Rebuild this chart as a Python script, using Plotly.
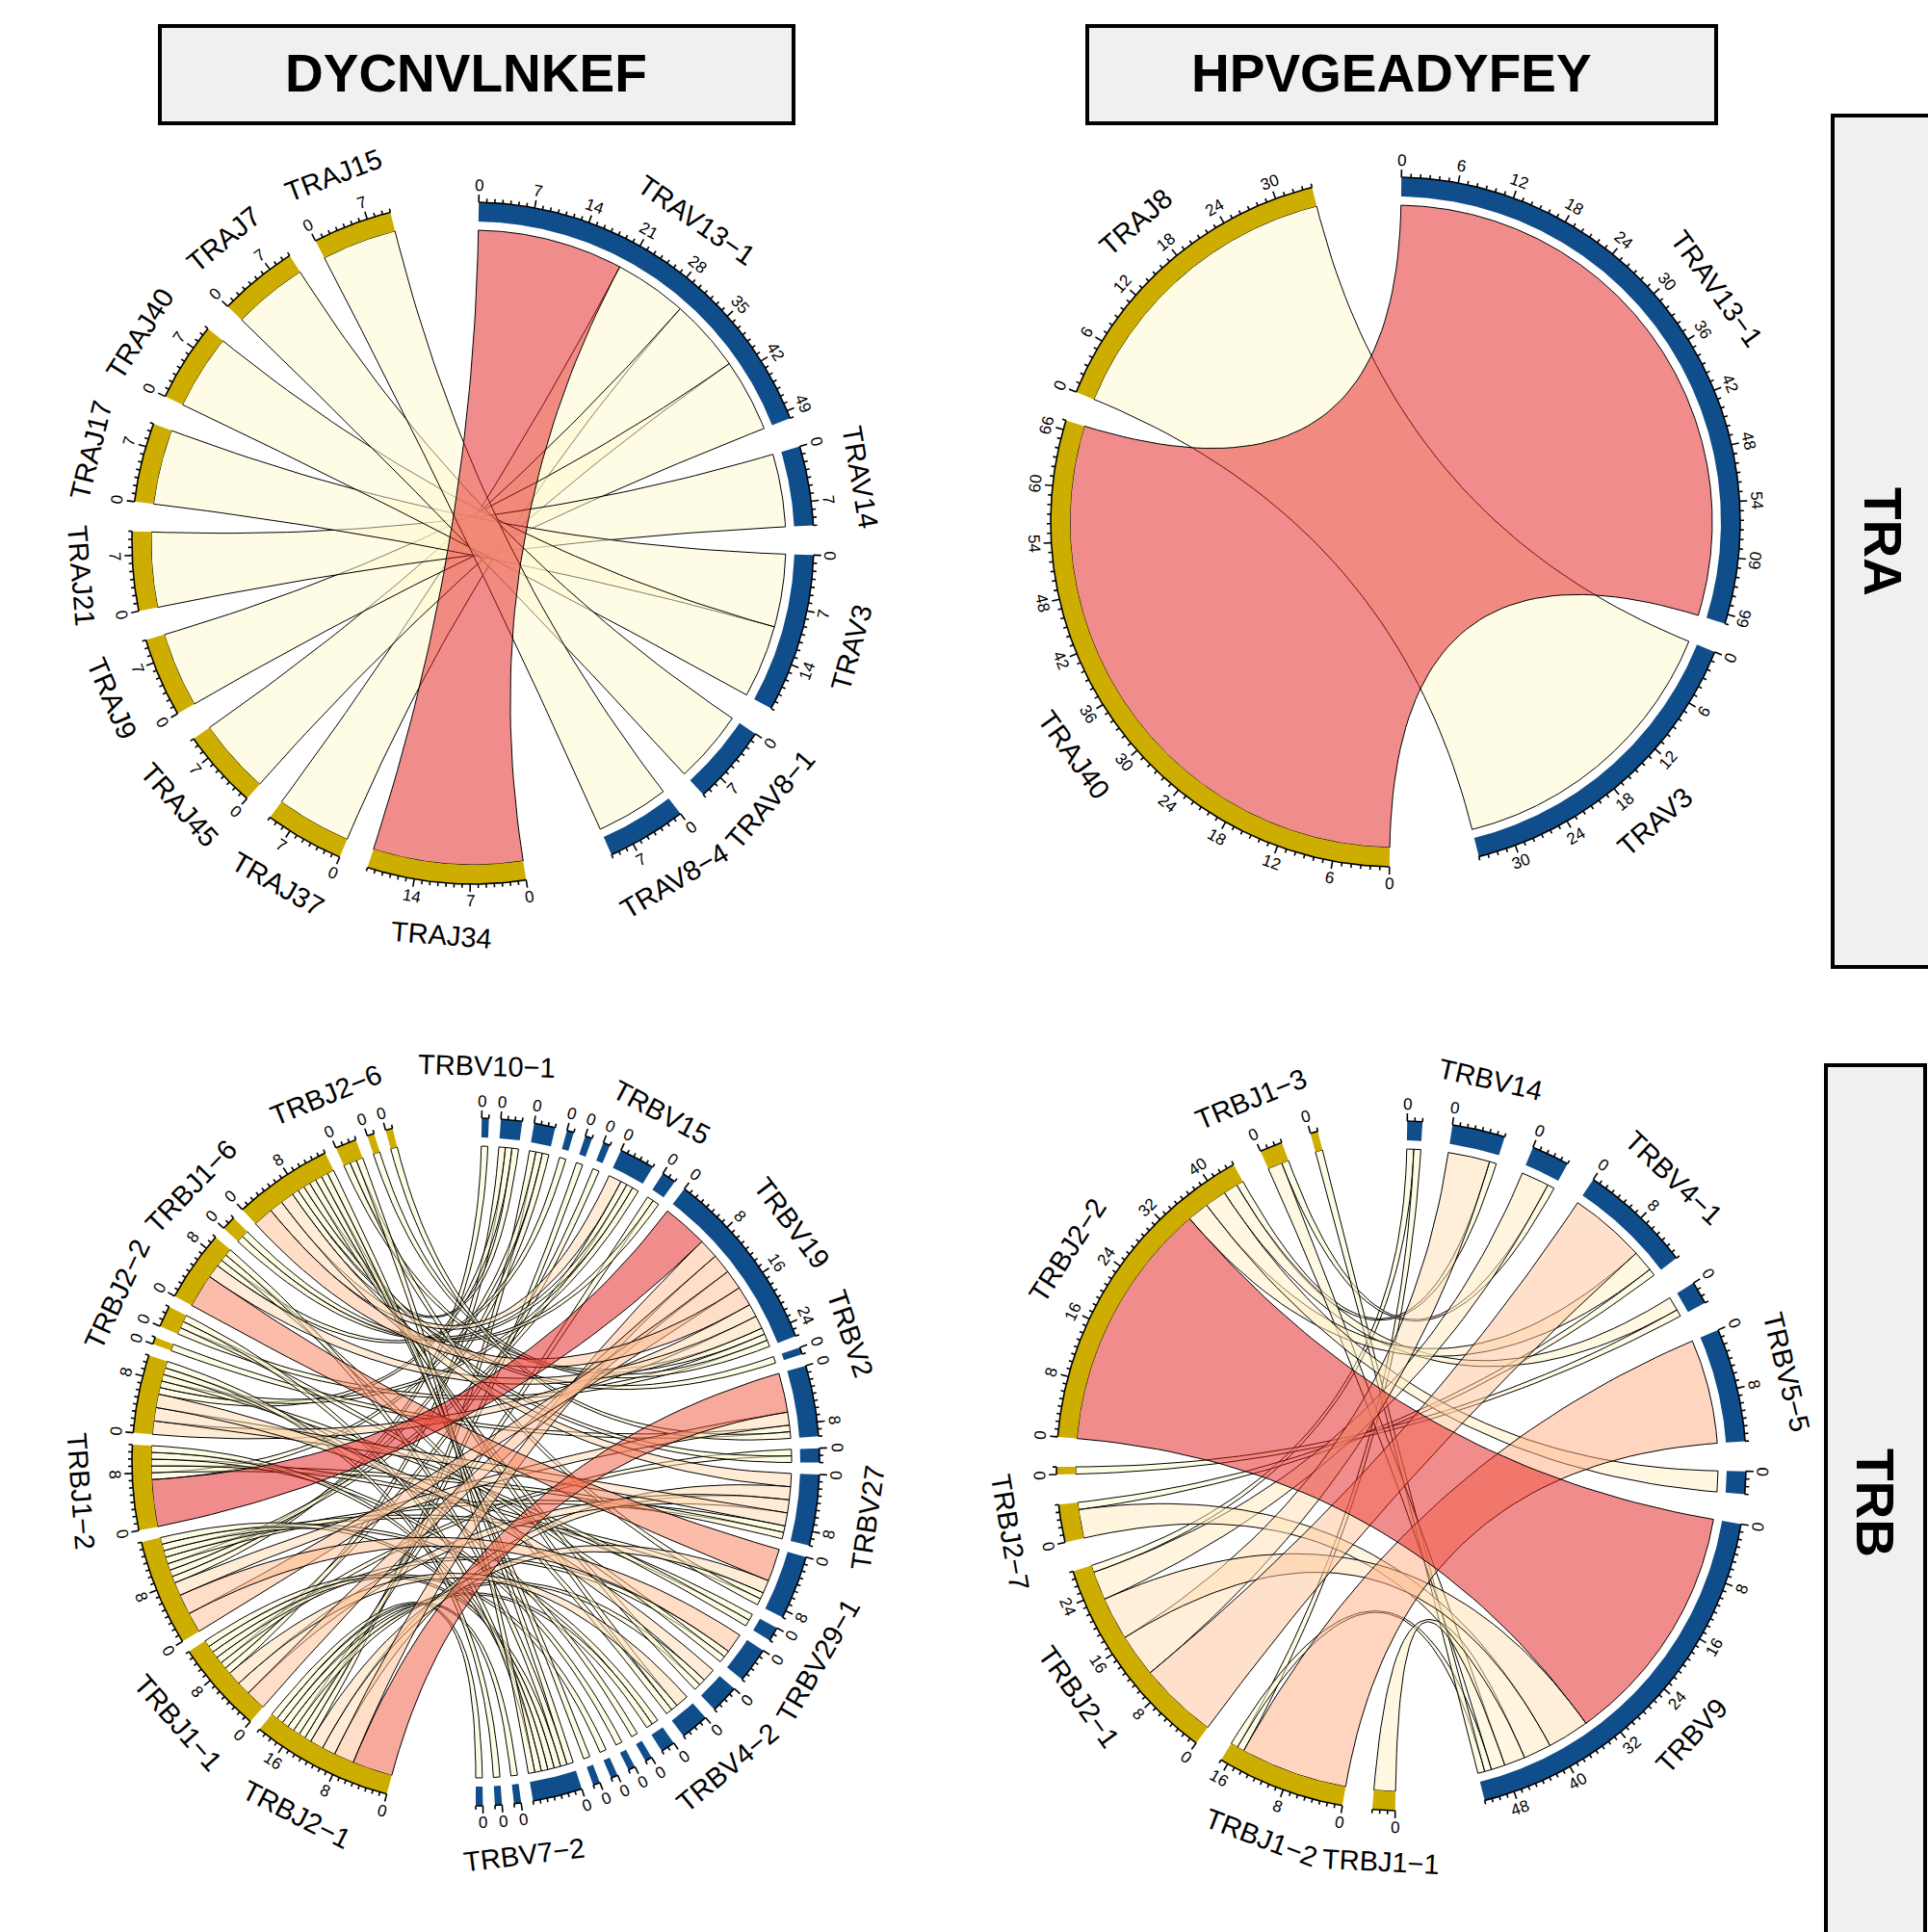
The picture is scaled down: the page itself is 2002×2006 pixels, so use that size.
import math
import plotly.graph_objects as go

FIG_W, FIG_H = 2002, 2006

# ---------------- data ----------------
col_titles = ["DYCNVLNKEF", "HPVGEADYFEY"]
row_titles = ["TRA", "TRB"]

# panel 1 : DYCNVLNKEF / TRA
p1_v = ["TRAV13-1", "TRAV14", "TRAV3", "TRAV8-1", "TRAV8-4"]
p1_j = ["TRAJ34", "TRAJ37", "TRAJ45", "TRAJ9", "TRAJ21", "TRAJ17", "TRAJ40", "TRAJ7", "TRAJ15"]
p1_from = ["TRAV13-1", "TRAV13-1", "TRAV13-1", "TRAV13-1", "TRAV14", "TRAV3", "TRAV3", "TRAV8-1", "TRAV8-4"]
p1_to = ["TRAJ34", "TRAJ37", "TRAJ45", "TRAJ9", "TRAJ21", "TRAJ17", "TRAJ40", "TRAJ7", "TRAJ15"]
p1_n = [20, 10, 10, 10, 10, 10, 10, 10, 10]
p1_named = p1_v + p1_j

# panel 2 : HPVGEADYFEY / TRA
p2_v = ["TRAV13-1", "TRAV3"]
p2_j = ["TRAJ40", "TRAJ8"]
p2_from = ["TRAV13-1", "TRAV3"]
p2_to = ["TRAJ40", "TRAJ8"]
p2_n = [67, 34]
p2_named = p2_v + p2_j

# panel 3 : DYCNVLNKEF / TRB
p3_v = ["TRBV10-1", "TRBV20-1", "TRBV28", "TRBV6-5", "TRBV12-3", "TRBV5-1", "TRBV15", "TRBV6-1",
        "TRBV19", "TRBV2", "TRBV11-2", "TRBV3-1", "TRBV27", "TRBV7-9", "TRBV29-1", "TRBV18",
        "TRBV30", "TRBV4-2", "TRBV24-1", "TRBV6-6", "TRBV7-3", "TRBV7-6", "TRBV9", "TRBV13",
        "TRBV7-2", "TRBV25-1", "TRBV10-3"]
p3_j = ["TRBJ2-1", "TRBJ1-1", "TRBJ2-7", "TRBJ1-2", "TRBJ2-3", "TRBJ2-4", "TRBJ2-2", "TRBJ1-5",
        "TRBJ1-6", "TRBJ2-5", "TRBJ2-6", "TRBJ1-3", "TRBJ1-4"]
p3_from = ["TRBV10-1",
           "TRBV20-1", "TRBV20-1", "TRBV20-1",
           "TRBV28", "TRBV28", "TRBV28",
           "TRBV6-5", "TRBV12-3", "TRBV5-1",
           "TRBV15", "TRBV15", "TRBV15", "TRBV15",
           "TRBV6-1", "TRBV6-1",
           "TRBV19", "TRBV19", "TRBV19", "TRBV19", "TRBV19", "TRBV19", "TRBV19", "TRBV19", "TRBV19", "TRBV19",
           "TRBV2",
           "TRBV11-2", "TRBV11-2", "TRBV11-2", "TRBV11-2",
           "TRBV3-1", "TRBV3-1",
           "TRBV27", "TRBV27", "TRBV27", "TRBV27", "TRBV27", "TRBV27",
           "TRBV7-9", "TRBV7-9", "TRBV7-9", "TRBV7-9",
           "TRBV29-1", "TRBV29-1",
           "TRBV18", "TRBV18", "TRBV18",
           "TRBV30", "TRBV30", "TRBV30",
           "TRBV4-2", "TRBV4-2", "TRBV4-2",
           "TRBV24-1", "TRBV24-1",
           "TRBV6-6", "TRBV7-3",
           "TRBV7-6",
           "TRBV9",
           "TRBV13", "TRBV13", "TRBV13", "TRBV13", "TRBV13", "TRBV13", "TRBV13",
           "TRBV7-2", "TRBV25-1", "TRBV10-3"]
p3_to = ["TRBJ2-7",
         "TRBJ1-1", "TRBJ2-3", "TRBJ2-5",
         "TRBJ2-1", "TRBJ1-2", "TRBJ2-7",
         "TRBJ1-5", "TRBJ2-1", "TRBJ1-1",
         "TRBJ2-7", "TRBJ1-6", "TRBJ2-3", "TRBJ2-5",
         "TRBJ2-1", "TRBJ1-6",
         "TRBJ1-2", "TRBJ2-1", "TRBJ1-1", "TRBJ2-7", "TRBJ2-3", "TRBJ1-5", "TRBJ2-5", "TRBJ2-6", "TRBJ2-2", "TRBJ1-3",
         "TRBJ2-5",
         "TRBJ2-1", "TRBJ2-7", "TRBJ2-4", "TRBJ1-4",
         "TRBJ1-1", "TRBJ2-5",
         "TRBJ2-5", "TRBJ2-1", "TRBJ1-1", "TRBJ2-3", "TRBJ2-7", "TRBJ1-2",
         "TRBJ1-5", "TRBJ2-1", "TRBJ2-7", "TRBJ2-6",
         "TRBJ1-2", "TRBJ2-3",
         "TRBJ2-7", "TRBJ1-1", "TRBJ2-2",
         "TRBJ2-3", "TRBJ2-1", "TRBJ2-5",
         "TRBJ1-1", "TRBJ2-5", "TRBJ1-5",
         "TRBJ2-7", "TRBJ2-1",
         "TRBJ2-3", "TRBJ1-2",
         "TRBJ1-1",
         "TRBJ2-5",
         "TRBJ2-5", "TRBJ1-5", "TRBJ1-1", "TRBJ2-7", "TRBJ1-2", "TRBJ2-2", "TRBJ2-6",
         "TRBJ2-1", "TRBJ2-3", "TRBJ2-1"]
p3_n = [1,
        1, 1, 1,
        1, 1, 1,
        1, 1, 1,
        1, 1, 1, 2,
        1, 1,
        7, 3, 3, 3, 2, 2, 3, 1, 1, 1,
        1,
        6, 2, 1, 1,
        1, 1,
        2, 2, 2, 2, 1, 1,
        5, 2, 1, 1,
        1, 1,
        3, 1, 1,
        2, 1, 1,
        2, 1, 1,
        1, 1,
        1, 1,
        1,
        1,
        1, 1, 1, 1, 1, 1, 1,
        1, 1, 1]
p3_named = ["TRBV10-1", "TRBV15", "TRBV19", "TRBV2", "TRBV27", "TRBV29-1", "TRBV4-2", "TRBV7-2",
            "TRBJ2-1", "TRBJ1-1", "TRBJ1-2", "TRBJ2-2", "TRBJ1-6", "TRBJ2-6"]

# panel 4 : HPVGEADYFEY / TRB
p4_v = ["TRBV20-1", "TRBV14", "TRBV6-5", "TRBV4-1", "TRBV28", "TRBV5-5", "TRBV7-9", "TRBV9"]
p4_j = ["TRBJ1-1", "TRBJ1-2", "TRBJ2-1", "TRBJ2-7", "TRBJ2-3", "TRBJ2-2", "TRBJ1-3", "TRBJ1-5"]
p4_from = ["TRBV20-1", "TRBV20-1", "TRBV14", "TRBV14", "TRBV6-5", "TRBV6-5",
           "TRBV4-1", "TRBV4-1", "TRBV4-1", "TRBV28", "TRBV28", "TRBV5-5", "TRBV7-9",
           "TRBV9", "TRBV9", "TRBV9", "TRBV9", "TRBV9", "TRBV9", "TRBV9"]
p4_to = ["TRBJ2-1", "TRBJ1-2", "TRBJ2-1", "TRBJ2-2", "TRBJ2-1", "TRBJ1-3",
         "TRBJ2-1", "TRBJ2-7", "TRBJ2-2", "TRBJ2-2", "TRBJ2-3", "TRBJ1-2", "TRBJ2-2",
         "TRBJ2-2", "TRBJ2-7", "TRBJ2-1", "TRBJ1-2", "TRBJ1-1", "TRBJ1-3", "TRBJ1-5"]
p4_n = [1, 1, 6, 1, 4, 1,
        11, 1, 3, 2, 1, 15, 3,
        35, 4, 6, 1, 3, 2, 1]
p4_named = ["TRBV14", "TRBV4-1", "TRBV5-5", "TRBV9",
            "TRBJ1-1", "TRBJ1-2", "TRBJ2-1", "TRBJ2-7", "TRBJ2-2", "TRBJ1-3"]

# ---------------- styling ----------------
V_COL = "#104E8B"
J_COL = "#CDAD00"
LOW_COL = (255, 250, 205)
HIGH_COL = (228, 26, 28)
FONT = "Liberation Sans, Arial, Helvetica, sans-serif"
BAR = 20.0        # px thickness of sector bar
VGAP = 9.0        # gap between bar and V-side link ends
MAJ = 8.0
MIN = 4.0
TICK_LAB = 18.0
NAME_OFF = 54.0
TICK_FONT = 17
NAME_FONT = 29


def _lin(c):
    c = c / 255.0
    return c / 12.92 if c <= 0.04045 else ((c + 0.055) / 1.055) ** 2.4


def _delin(c):
    c = 12.92 * c if c <= 0.0031308 else 1.055 * c ** (1 / 2.4) - 0.055
    return max(0, min(255, round(c * 255)))


WHITE = (0.95047, 1.0, 1.08883)


def to_lab(rgb):
    r, g, b = [_lin(v) for v in rgb]
    x = 0.4124 * r + 0.3576 * g + 0.1805 * b
    y = 0.2126 * r + 0.7152 * g + 0.0722 * b
    z = 0.0193 * r + 0.1192 * g + 0.9505 * b

    def f(t):
        return t ** (1 / 3) if t > 0.008856 else 7.787 * t + 16 / 116
    fx, fy, fz = f(x / WHITE[0]), f(y / WHITE[1]), f(z / WHITE[2])
    return (116 * fy - 16, 500 * (fx - fy), 200 * (fy - fz))


def from_lab(lab):
    L, a, b = lab
    fy = (L + 16) / 116
    fx = fy + a / 500
    fz = fy - b / 200

    def finv(t):
        return t ** 3 if t ** 3 > 0.008856 else (t - 16 / 116) / 7.787
    x, y, z = finv(fx) * WHITE[0], finv(fy) * WHITE[1], finv(fz) * WHITE[2]
    r = 3.2406 * x - 1.5372 * y - 0.4986 * z
    g = -0.9689 * x + 1.8758 * y + 0.0415 * z
    bb = 0.0557 * x - 0.2040 * y + 1.0570 * z
    return tuple(_delin(max(0.0, min(1.0, v))) for v in (r, g, bb))


def value_colour(v, vmin, vmax, alpha=0.5):
    t = 0.0 if vmax == vmin else (v - vmin) / (vmax - vmin)
    l1, l2 = to_lab(LOW_COL), to_lab(HIGH_COL)
    lab = tuple(p + (q - p) * t for p, q in zip(l1, l2))
    r, g, b = from_lab(lab)
    return f"rgba({r},{g},{b},{alpha})"


def pt(cx, cy, r, th):
    a = math.radians(th)
    return cx + r * math.sin(a), cy - r * math.cos(a)


def arc(cx, cy, r, t0, t1, step=0.4):
    n = max(2, int(abs(t1 - t0) / step) + 1)
    return [pt(cx, cy, r, t0 + (t1 - t0) * i / (n - 1)) for i in range(n)]


def bez(p0, c, p2, n=48):
    out = []
    for i in range(n):
        t = i / (n - 1)
        out.append(((1 - t) ** 2 * p0[0] + 2 * (1 - t) * t * c[0] + t ** 2 * p2[0],
                    (1 - t) ** 2 * p0[1] + 2 * (1 - t) * t * c[1] + t ** 2 * p2[1]))
    return out


def facing_angle(th):
    th = th % 360
    if 90 < th < 270:
        return th - 180
    return th if th <= 90 else th - 360


fig = go.Figure()
annotations = []


def chord(v_secs, j_secs, frm, to, vals, named, cx, cy, R, gap, big_gap, start, major_by):
    secs = v_secs + j_secs
    size = {s: 0 for s in secs}
    for a, b, n in zip(frm, to, vals):
        size[a] += n
        size[b] += n
    total = sum(size.values())
    k = (360.0 - 2 * big_gap - (len(secs) - 2) * gap) / total
    rng = {}
    ang = start
    for grp in (v_secs, j_secs):
        for i, s in enumerate(grp):
            rng[s] = (ang, ang + size[s] * k)
            ang = rng[s][1] + (big_gap if i == len(grp) - 1 else gap)

    # link positions on each sector (sorted by width, decreasing)
    pos_v, pos_j = {}, {}
    for s in secs:
        idx = [i for i in range(len(vals)) if (frm[i] == s if s in v_secs else to[i] == s)]
        idx.sort(key=lambda i: -vals[i])
        cur = rng[s][0]
        for i in idx:
            seg = (cur, cur + vals[i] * k)
            cur = seg[1]
            if s in v_secs:
                pos_v[i] = seg
            else:
                pos_j[i] = seg

    r_in = R - BAR
    r_v = r_in - VGAP
    c = (cx, cy)
    vmin, vmax = min(vals), max(vals)
    for i in sorted(range(len(vals)), key=lambda i: vals[i]):
        a1, a2 = pos_v[i]
        b1, b2 = pos_j[i]
        pts = arc(cx, cy, r_v, a1, a2)
        pts += bez(pt(cx, cy, r_v, a2), c, pt(cx, cy, r_in, b1))
        pts += arc(cx, cy, r_in, b1, b2)
        pts += bez(pt(cx, cy, r_in, b2), c, pt(cx, cy, r_v, a1))
        xs = [p[0] for p in pts] + [pts[0][0]]
        ys = [p[1] for p in pts] + [pts[0][1]]
        fig.add_trace(go.Scatter(x=xs, y=ys, mode="lines", fill="toself",
                                 fillcolor=value_colour(vals[i], vmin, vmax),
                                 line=dict(color="black", width=1.0),
                                 hoverinfo="skip", showlegend=False))

    # sector bars
    for grp, col in ((v_secs, V_COL), (j_secs, J_COL)):
        xs, ys = [], []
        for s in grp:
            t0, t1 = rng[s]
            poly = arc(cx, cy, R, t0, t1) + arc(cx, cy, r_in, t1, t0)
            xs += [p[0] for p in poly] + [poly[0][0], None]
            ys += [p[1] for p in poly] + [poly[0][1], None]
        fig.add_trace(go.Scatter(x=xs, y=ys, mode="lines", fill="toself", fillcolor=col,
                                 line=dict(width=0, color=col), hoverinfo="skip", showlegend=False))

    # axes: baseline arc + ticks + labels
    xs, ys = [], []
    for s in secs:
        t0, t1 = rng[s]
        a = arc(cx, cy, R, t0, t1)
        xs += [p[0] for p in a] + [None]
        ys += [p[1] for p in a] + [None]
        i = 0
        while i <= size[s]:
            th = t0 + i * k
            major = (i % major_by == 0)
            L = MAJ if major else MIN
            p0 = pt(cx, cy, R, th)
            p1 = pt(cx, cy, R + L, th)
            xs += [p0[0], p1[0], None]
            ys += [p0[1], p1[1], None]
            if major:
                lp = pt(cx, cy, R + TICK_LAB, th)
                annotations.append(dict(x=lp[0], y=lp[1], xref="x", yref="y", text=str(i),
                                        showarrow=False, textangle=facing_angle(th),
                                        font=dict(family=FONT, size=TICK_FONT, color="black"),
                                        xanchor="center", yanchor="middle"))
            i += 1
        if s in named:
            mid = (t0 + t1) / 2
            lp = pt(cx, cy, R + NAME_OFF, mid)
            annotations.append(dict(x=lp[0], y=lp[1], xref="x", yref="y",
                                    text=s.replace("-", "\u2212"),
                                    showarrow=False, textangle=facing_angle(mid),
                                    font=dict(family=FONT, size=NAME_FONT, color="black"),
                                    xanchor="center", yanchor="middle"))
    fig.add_trace(go.Scatter(x=xs, y=ys, mode="lines", line=dict(color="black", width=1.6),
                             hoverinfo="skip", showlegend=False))


chord(p1_v, p1_j, p1_from, p1_to, p1_n, p1_named, 491, 564, 354, 5, 15, 1, 7)
chord(p2_v, p2_j, p2_from, p2_to, p2_n, p2_named, 1449, 542, 358, 5, 15, 1, 6)
chord(p3_v, p3_j, p3_from, p3_to, p3_n, p3_named, 494, 1518, 357, 2, 15, 1, 8)
chord(p4_v, p4_j, p4_from, p4_to, p4_n, p4_named, 1455, 1522, 358, 5, 15, 1, 8)

# ---------------- strips ----------------
shapes = []
strip_boxes = [(166, 27, 824, 128), (1129, 27, 1782, 128)]
strip_text_x = [484, 1445]
for (x0, y0, x1, y1), t, tx in zip(strip_boxes, col_titles, strip_text_x):
    shapes.append(dict(type="rect", xref="x", yref="y", x0=x0, y0=y0, x1=x1, y1=y1,
                       fillcolor="#F0F0F0", line=dict(color="black", width=4), layer="below"))
    annotations.append(dict(x=tx, y=76, xref="x", yref="y", text=f"<b>{t}</b>",
                            showarrow=False, font=dict(family=FONT, size=55, color="black"),
                            xanchor="center", yanchor="middle"))
row_boxes = [(1903, 120, 2012, 1004), (1896, 1106, 1999, 2016)]
row_text_pos = [(1955, 562), (1947, 1560)]
for (x0, y0, x1, y1), t, (tx, ty) in zip(row_boxes, row_titles, row_text_pos):
    shapes.append(dict(type="rect", xref="x", yref="y", x0=x0, y0=y0, x1=x1, y1=y1,
                       fillcolor="#F0F0F0", line=dict(color="black", width=4), layer="below"))
    annotations.append(dict(x=tx, y=ty, xref="x", yref="y", text=f"<b>{t}</b>", textangle=90,
                            showarrow=False, font=dict(family=FONT, size=55, color="black"),
                            xanchor="center", yanchor="middle"))

fig.update_layout(
    width=FIG_W, height=FIG_H, autosize=False,
    margin=dict(l=0, r=0, t=0, b=0, pad=0),
    paper_bgcolor="white", plot_bgcolor="white",
    xaxis=dict(range=[0, FIG_W], visible=False, fixedrange=True, domain=[0, 1]),
    yaxis=dict(range=[FIG_H, 0], visible=False, fixedrange=True, domain=[0, 1]),
    shapes=shapes, annotations=annotations, showlegend=False,
)

fig.write_html("out.html",
               config={"displayModeBar": False, "staticPlot": True},
               post_script="document.body.style.margin='0px';document.body.style.overflow='hidden';")
